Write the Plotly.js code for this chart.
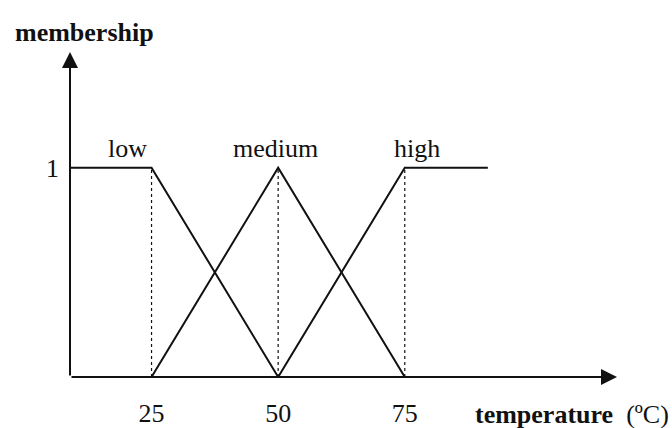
<!DOCTYPE html>
<html><head><meta charset="utf-8">
<script src="https://cdn.plot.ly/plotly-3.0.1.min.js"></script>
<style>body{margin:0;background:#fff}#c{width:672px;height:428px}</style>
</head><body><div id="c"></div>
<script>
// membership functions (temperature in °C, membership 0..1)
const lowX = [8.9, 25, 50];
const lowY = [1, 1, 0];
const medX = [25, 50, 75];
const medY = [0, 1, 0];
const highX = [50, 75, 91.4];
const highY = [0, 1, 1];
const setNames = ['low', 'medium', 'high'];
const setLabelX = [20.3, 49.4, 77.4];
const peakX = [25, 50, 75];
const xTickVals = [25, 50, 75];
const xTickText = ['25', '50', '75'];
const yTickVals = [1];
const yTickText = ['1'];
const xMin = 8.9, xMax = 116.9, yMax = 1.553;

const serif = 'Liberation Serif, Times New Roman, serif';
const fs = 26;
const solid = {color: '#111', width: 2};
const traces = [
  {x: lowX, y: lowY, mode: 'lines', line: solid, hoverinfo: 'skip'},
  {x: medX, y: medY, mode: 'lines', line: solid, hoverinfo: 'skip'},
  {x: highX, y: highY, mode: 'lines', line: solid, hoverinfo: 'skip'}
];
peakX.forEach(p => traces.push({x: [p, p], y: [0, 1], mode: 'lines',
  line: {color: '#111', width: 1.2, dash: 'dot'}, hoverinfo: 'skip'}));

const ann = [
  {x: xMax, y: 0, ax: xMin, ay: 0, axref: 'x', ayref: 'y', xref: 'x', yref: 'y',
   showarrow: true, arrowhead: 2, arrowsize: 1.6, arrowwidth: 2, arrowcolor: '#111', text: ''},
  {x: xMin, y: yMax, ax: xMin, ay: 0, axref: 'x', ayref: 'y', xref: 'x', yref: 'y',
   showarrow: true, arrowhead: 2, arrowsize: 1.6, arrowwidth: 2, arrowcolor: '#111', text: ''},
  {x: 0, y: 1, xref: 'paper', yref: 'paper', xshift: -57, yshift: 20, xanchor: 'left', yanchor: 'middle',
   showarrow: false, text: '<b>membership</b>', font: {family: serif, size: fs, color: '#111'}},
  {x: 88.4, y: 0, xref: 'x', yref: 'y', yshift: -37, xanchor: 'left', yanchor: 'middle',
   showarrow: false, text: '<b>temperature</b>  (ºC)', font: {family: serif, size: fs, color: '#111'}}
];
setNames.forEach((n, i) => ann.push({x: setLabelX[i], y: 1, xref: 'x', yref: 'y', yshift: 19,
  yanchor: 'middle', showarrow: false, text: n, font: {family: serif, size: fs, color: '#111'}}));

const layout = {
  width: 672, height: 428,
  margin: {l: 70, r: 55, t: 52, b: 51},
  paper_bgcolor: '#fff', plot_bgcolor: '#fff', showlegend: false,
  xaxis: {range: [xMin, xMax], showgrid: false, zeroline: false, showline: false,
    tickvals: xTickVals, ticktext: xTickText, ticks: '', ticklabelstandoff: 18,
    tickfont: {family: serif, size: fs, color: '#111'}},
  yaxis: {range: [0, yMax], showgrid: false, zeroline: false, showline: false,
    tickvals: yTickVals, ticktext: yTickText, ticks: '', ticklabelstandoff: 10,
    tickfont: {family: serif, size: fs, color: '#111'}},
  annotations: ann
};
Plotly.newPlot('c', traces, layout, {staticPlot: true});
</script></body></html>
